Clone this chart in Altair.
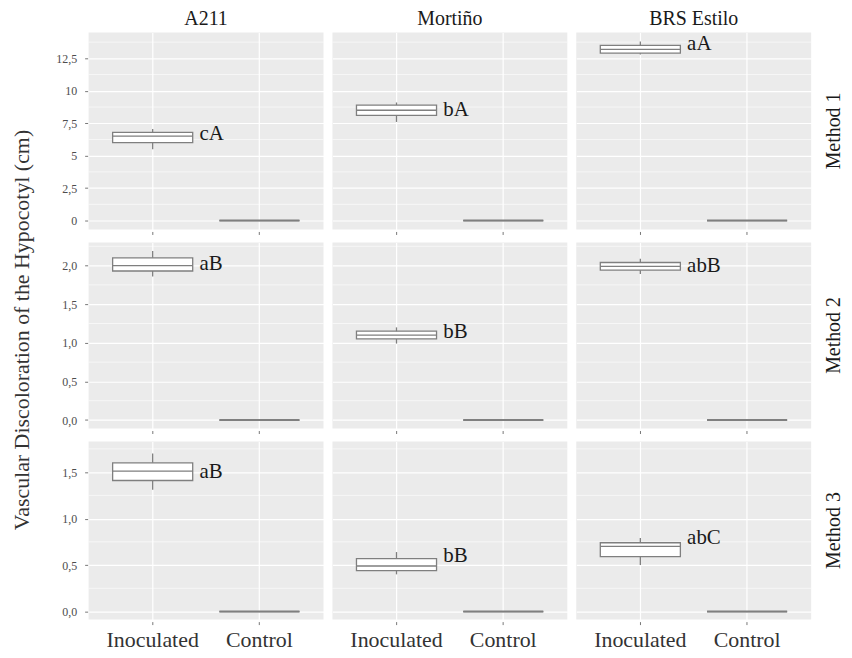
import altair as alt
import pandas as pd

cultivars = ["A211", "Mortiño", "BRS Estilo"]
methods = ["Method 1", "Method 2", "Method 3"]
treatments = ["Inoculated", "Control"]

# Inoculated box statistics: rows = methods, columns = cultivars
whisker_low = [[5.5, 7.6, 12.8], [1.86, 0.99, 1.89], [1.31, 0.40, 0.50]]
quart_1 = [[6.0, 8.1, 12.9], [1.93, 1.05, 1.94], [1.41, 0.44, 0.59]]
median = [[6.5, 8.5, 13.2], [2.0, 1.10, 1.99], [1.51, 0.49, 0.70]]
quart_3 = [[6.8, 8.9, 13.5], [2.1, 1.15, 2.04], [1.60, 0.57, 0.74]]
whisker_high = [[7.05, 9.1, 13.8], [2.19, 1.20, 2.09], [1.70, 0.64, 0.79]]
control_value = 0.0

letters = [["cA", "bA", "aA"], ["aB", "bB", "abB"], ["aB", "bB", "abC"]]
letter_y = [[6.65, 8.5, 13.6], [2.02, 1.14, 1.99], [1.50, 0.60, 0.79]]

y_domains = [[-0.69, 14.5], [-0.11, 2.30], [-0.087, 1.83]]
major_ticks = [[0, 2.5, 5, 7.5, 10, 12.5], [0, 0.5, 1.0, 1.5, 2.0], [0, 0.5, 1.0, 1.5]]
minor_ticks = [[1.25, 3.75, 6.25, 8.75, 11.25, 13.75],
               [0.25, 0.75, 1.25, 1.75, 2.25],
               [0.25, 0.75, 1.25, 1.75]]
label_formats = ["~g", ".1f", ".1f"]
row_heights = [198, 187, 179]

SERIF = "'Liberation Serif', 'Times New Roman', Times, 'DejaVu Serif', serif"
BOX = "#7f7f7f"


def build_row(mi):
    recs = []
    for ci, c in enumerate(cultivars):
        recs.append(dict(kind="box", method=methods[mi], cultivar=c, treatment="Inoculated",
                         lo=whisker_low[mi][ci], q1=quart_1[mi][ci], med=median[mi][ci],
                         q3=quart_3[mi][ci], hi=whisker_high[mi][ci],
                         letter=letters[mi][ci], ly=letter_y[mi][ci], v=None))
        recs.append(dict(kind="box", method=methods[mi], cultivar=c, treatment="Control",
                         lo=control_value, q1=control_value, med=control_value,
                         q3=control_value, hi=control_value, letter="", ly=control_value, v=None))
        for v in minor_ticks[mi]:
            recs.append(dict(kind="minor", method=methods[mi], cultivar=c, treatment=None,
                             lo=None, q1=None, med=None, q3=None, hi=None,
                             letter="", ly=None, v=v))
    df = pd.DataFrame(recs)

    ysc = alt.Scale(domain=y_domains[mi], nice=False, zero=False)
    xsc = alt.Scale(domain=treatments, paddingInner=0, paddingOuter=0.1)
    fmt = label_formats[mi]
    yaxis = alt.Axis(values=major_ticks[mi], title=None,
                     labelExpr=f"replace(format(datum.value, '{fmt}'), '.', ',')",
                     grid=True, gridColor="white", gridWidth=1.2, domain=False,
                     ticks=True, tickSize=3, tickColor="#777",
                     labelColor="#4d4d4d", labelFontSize=12, labelFont=SERIF,
                     labelPadding=8, minExtent=40, maxExtent=40)
    last = mi == 2
    xaxis = alt.Axis(title=None, labels=last, ticks=True, tickSize=3, tickColor="#777",
                     domain=False, grid=True, gridColor="white", gridWidth=1.2,
                     labelFontSize=22, labelFont=SERIF, labelColor="#333",
                     labelPadding=5, labelAngle=0)

    x = alt.X("treatment:N", scale=xsc, axis=xaxis)
    base = alt.Chart()
    boxes = base.transform_filter("datum.kind == 'box'")

    minor = base.transform_filter("datum.kind == 'minor'").mark_rule(
        color="white", strokeWidth=0.6).encode(
        y=alt.Y("v:Q", scale=ysc, axis=yaxis))
    whisk = boxes.mark_rule(color=BOX, strokeWidth=1.3).encode(
        x=x, y=alt.Y("lo:Q", scale=ysc, axis=yaxis), y2="hi:Q")
    box = boxes.mark_bar(width=alt.RelativeBandSize(0.75), fill="white",
                         stroke=BOX, strokeWidth=1.3).encode(
        x=x, y=alt.Y("q1:Q", scale=ysc, axis=yaxis), y2="q3:Q")
    med = boxes.mark_bar(width=alt.RelativeBandSize(0.75), fill="white",
                         stroke=BOX).encode(
        x=x, y=alt.Y("med:Q", scale=ysc, axis=yaxis), y2="med:Q",
        strokeWidth=alt.condition("datum.treatment == 'Control'",
                                  alt.value(2.0), alt.value(1.3)))
    txt = boxes.mark_text(align="left", baseline="middle", dx=47, fontSize=21,
                          font=SERIF, color="#1a1a1a").encode(
        x=x, y=alt.Y("ly:Q", scale=ysc, axis=yaxis), text="letter:N")

    layer = alt.layer(minor, whisk, box, med, txt).properties(
        width=236, height=row_heights[mi])

    if mi == 0:
        col_header = alt.Header(title=None, labelFont=SERIF, labelFontSize=20,
                                labelColor="#1a1a1a", labelPadding=3)
    else:
        col_header = alt.Header(title=None, labels=False, labelPadding=0)
    row_header = alt.Header(title=None, labelOrient="right", labelAngle=270,
                            labelFont=SERIF, labelFontSize=20, labelColor="#1a1a1a",
                            labelPadding=12)

    return layer.facet(
        data=df,
        column=alt.Column("cultivar:N", sort=cultivars, header=col_header),
        row=alt.Row("method:N", header=row_header),
        spacing=7,
    )


rows = [build_row(i) for i in range(3)]

chart = alt.vconcat(*rows, spacing=7).properties(
    title=alt.TitleParams(text="Vascular Discoloration of the Hypocotyl (cm)",
                          orient="left", anchor="middle", fontSize=22, font=SERIF,
                          fontWeight="normal", color="#333", offset=14),
    padding={"left": 2, "top": 0, "right": 0, "bottom": 0},
).configure(font=SERIF).configure_view(fill="#EBEBEB", stroke=None)

chart.save("out.html", embed_options={"renderer": "svg", "actions": False})
